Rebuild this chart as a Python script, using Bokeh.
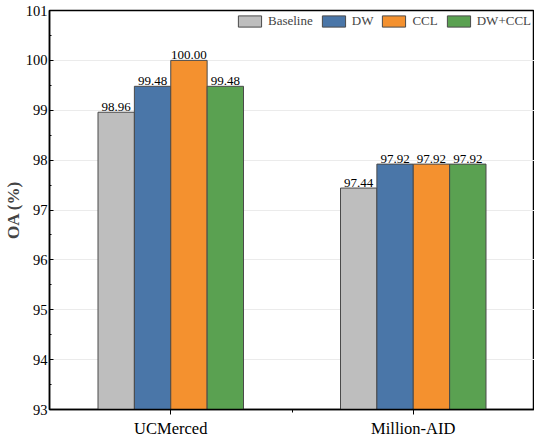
from bokeh.plotting import figure
from bokeh.models import FixedTicker, ColumnDataSource, Range1d, Legend, LegendItem
from bokeh.core.properties import value
from bokeh.embed import file_html
from bokeh.resources import INLINE

datasets = ["UCMerced", "Million-AID"]
methods = ["Baseline", "DW", "CCL", "DW+CCL"]
baseline = [98.96, 97.44]
dw = [99.48, 97.92]
ccl = [100.00, 97.92]
dw_ccl = [99.48, 97.92]
y_ticks = [93, 94, 95, 96, 97, 98, 99, 100, 101]

series = [baseline, dw, ccl, dw_ccl]
colors = ["#BEBEBE", "#4A76A8", "#F4912F", "#5AA151"]
offsets = [-0.225, -0.075, 0.075, 0.225]
centers = [0.5, 1.5]
FONT = "Times New Roman, Liberation Serif, serif"

p = figure(width=534, height=440, output_backend="svg", toolbar_location=None,
           x_range=Range1d(0, 2), y_range=Range1d(93, 101),
           min_border_left=0, min_border_right=0, min_border_top=10, min_border_bottom=0)
p.background_fill_color = "white"
p.outline_line_color = "black"
p.outline_line_width = 1.5
p.outline_line_alpha = 1

items = []
for name, vals, col, off in zip(methods, series, colors, offsets):
    xs = [c + off for c in centers]
    src = ColumnDataSource(dict(x=xs, top=vals, lab=["%.2f" % v for v in vals]))
    r = p.vbar(x="x", top="top", bottom=93, width=0.15, source=src,
               fill_color=col, line_color="#4a4a4a", line_width=1)
    p.text(x="x", y="top", text="lab", source=src, text_align="center",
           text_baseline="bottom", y_offset=-1, text_font=value(FONT),
           text_font_size="13px", text_color="black")
    items.append(LegendItem(label=name, renderers=[r]))

legend = Legend(items=items, orientation="horizontal", location="top_right",
                glyph_width=29, glyph_height=14, label_text_font=FONT,
                label_text_font_size="13px", label_standoff=4, spacing=6,
                padding=0, margin=3, border_line_color=None,
                background_fill_alpha=0, label_height=14)
p.add_layout(legend)

p.xaxis.ticker = FixedTicker(ticks=centers, minor_ticks=[1.0])
p.xaxis.major_label_overrides = {0.5: datasets[0], 1.5: datasets[1]}
p.xaxis.major_label_text_font = FONT
p.xaxis.major_label_text_font_size = "16.5px"
p.xaxis.major_tick_in = 0
p.xaxis.major_tick_out = 5
p.xaxis.minor_tick_in = 0
p.xaxis.minor_tick_out = 3
p.xaxis.major_label_standoff = 4

p.yaxis.ticker = FixedTicker(ticks=y_ticks, minor_ticks=[t + 0.5 for t in y_ticks[:-1]])
p.yaxis.major_label_text_font = FONT
p.yaxis.major_label_text_font_size = "14.5px"
p.yaxis.major_tick_in = 4
p.yaxis.major_tick_out = 0
p.yaxis.minor_tick_in = 2
p.yaxis.minor_tick_out = 0
p.yaxis.major_label_standoff = 2
p.yaxis.axis_label = "OA (%)"
p.yaxis.axis_label_text_font = FONT
p.yaxis.axis_label_text_font_size = "17px"
p.yaxis.axis_label_text_font_style = "bold"
p.yaxis.axis_label_standoff = 0

for ax in (p.xaxis, p.yaxis):
    ax.axis_line_color = "black"
    ax.axis_line_width = 1.5
    ax.major_tick_line_color = "black"
    ax.minor_tick_line_color = "black"
    ax.major_label_text_color = "black"

p.xgrid.visible = False
p.ygrid.ticker = FixedTicker(ticks=y_ticks[1:-1])
p.ygrid.grid_line_color = "#ebebeb"
p.ygrid.grid_line_width = 1

open("out.html", "w").write(file_html(p, INLINE))
